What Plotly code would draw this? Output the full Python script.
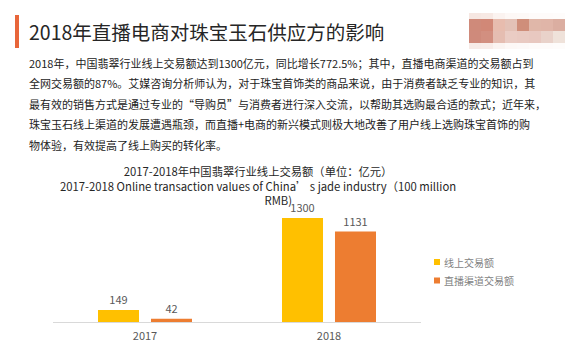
import plotly.graph_objects as go

# ---- data ----
years = ["2017", "2018"]
series_names = ["线上交易额", "直播渠道交易额"]
online_values = [149, 1300]
livestream_values = [42, 1131]
series_colors = ["#FFC000", "#ED7D31"]

headline = "2018年直播电商对珠宝玉石供应方的影响"
body_lines = [
    "2018年，中国翡翠行业线上交易额达到1300亿元，同比增长772.5%；其中，直播电商渠道的交易额占到",
    "全网交易额的87%。艾媒咨询分析师认为，对于珠宝首饰类的商品来说，由于消费者缺乏专业的知识，其",
    "最有效的销售方式是通过专业的“导购员”与消费者进行深入交流，以帮助其选购最合适的款式；近年来，",
    "珠宝玉石线上渠道的发展遭遇瓶颈，而直播+电商的新兴模式则极大地改善了用户线上选购珠宝首饰的购",
    "物体验，有效提高了线上购买的转化率。",
]
chart_title_lines = [
    "2017-2018年中国翡翠行业线上交易额（单位：亿元）",
    "2017-2018 Online transaction values of China’ s jade industry（100 million",
    "&nbsp;" * 16 + "RMB)",
]

# ---- page geometry (pixels) ----
W, H = 569, 346
FONT = "Noto Sans CJK SC"


def px(x):
    return x / W


def py(y):
    return 1 - y / H


fig = go.Figure()

series_values = [online_values, livestream_values]
for name, vals, color in zip(series_names, series_values, series_colors):
    fig.add_trace(go.Bar(
        x=years, y=vals, name=name,
        marker=dict(color=color, line=dict(width=0)),
        text=[str(v) for v in vals], textposition="outside",
        textfont=dict(family=FONT, size=11, color="#595959"),
        cliponaxis=False, showlegend=False,
    ))

shapes = []
annotations = []

# headline with accent bar
shapes.append(dict(type="rect", xref="paper", yref="paper",
                   x0=px(15), x1=px(19), y0=py(48), y1=py(15),
                   fillcolor="#E8663A", line=dict(width=0)))
annotations.append(dict(text=headline, xref="paper", yref="paper",
                        x=px(27), y=py(31), xanchor="left", yanchor="middle",
                        showarrow=False,
                        font=dict(family=FONT, size=19.5, color="#262626")))

# pixelated logo block in the top-right corner
mosaic_rows = [
    (13, 19, ["#f6e7e2", "#f7e9e4", "#fbf3f0", "#fdf8f6", "#fdf9f7", "#fefbfa", "#fefbfa", "#fefcfb"]),
    (19, 31, ["#cf8a7a", "#d18877", "#e7bcae", "#e3c1b6", "#cf8e7a", "#e0b7a9", "#e0b5a8", "#dbaea1"]),
    (31, 43, ["#cf8a7b", "#d28f80", "#e5bdb1", "#eaccc4", "#e9cac2", "#e8c8c0", "#e9d2ca", "#efe2da"]),
    (43, 49, ["#f7ebe7", "#f8ece8", "#fbf4f1", "#fdf8f6", "#fdf9f8", "#fefbfa", "#fefbfa", "#fefcfb"]),
]
for y0, y1, cols in mosaic_rows:
    for i, c in enumerate(cols):
        x0 = 469 + 12 * i
        shapes.append(dict(type="rect", xref="paper", yref="paper",
                           x0=px(x0), x1=px(x0 + 12), y0=py(y1), y1=py(y0),
                           fillcolor=c, line=dict(width=0)))

# body paragraph
for i, line in enumerate(body_lines):
    annotations.append(dict(text=line, xref="paper", yref="paper",
                            x=px(27), y=py(63 + 20.4 * i),
                            xanchor="left", yanchor="middle", showarrow=False,
                            font=dict(family=FONT, size=11, color="#222222")))

# chart title (three lines in one block)
annotations.append(dict(text="<br>".join(chart_title_lines),
                        xref="paper", yref="paper",
                        x=px(258), y=py(185), xanchor="center", yanchor="middle",
                        align="center", showarrow=False,
                        font=dict(family=FONT, size=11.3, color="#262626")))

# legend
for i, (name, color) in enumerate(zip(series_names, series_colors)):
    cy = 262 + 18.5 * i
    shapes.append(dict(type="rect", xref="paper", yref="paper",
                       x0=px(434), x1=px(440), y0=py(cy + 3), y1=py(cy - 3),
                       fillcolor=color, line=dict(width=0)))
    annotations.append(dict(text=name, xref="paper", yref="paper",
                            x=px(442), y=py(cy), xanchor="left", yanchor="middle",
                            showarrow=False,
                            font=dict(family=FONT, size=10, color="#7f7f7f")))

fig.update_layout(
    width=W, height=H,
    margin=dict(l=0, r=0, t=0, b=0),
    paper_bgcolor="white", plot_bgcolor="white",
    barmode="group", bargap=0.424, bargroupgap=0.226,
    shapes=shapes, annotations=annotations,
    font=dict(family=FONT),
    xaxis=dict(domain=[px(53), px(421)], type="category",
               showline=True, linecolor="#d9d9d9", linewidth=1,
               showgrid=False, zeroline=False,
               ticks="outside", ticklen=4, tickcolor="rgba(0,0,0,0)",
               tickfont=dict(family=FONT, size=11, color="#595959")),
    yaxis=dict(domain=[1 - 322 / H, 1 - 200 / H], range=[0, 1525],
               visible=False, showgrid=False, zeroline=False),
)

fig.write_html("out.html")
